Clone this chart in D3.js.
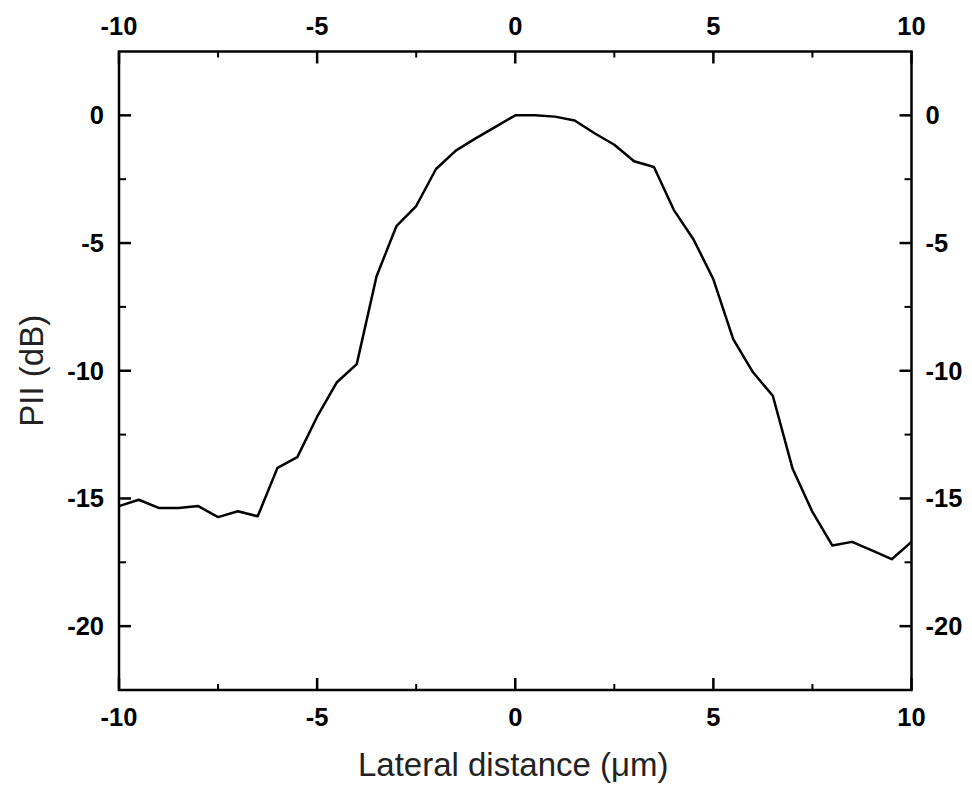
<!DOCTYPE html>
<html>
<head>
<meta charset="utf-8">
<script src="https://cdn.jsdelivr.net/npm/d3@7"></script>
<style>
  html, body { margin: 0; padding: 0; background: #fff; }
  svg { display: block; }
  .tick-label { font-family: "Liberation Sans", Arial, sans-serif; font-weight: bold; font-size: 25.5px; fill: #000; }
  .axis-title { font-family: "Liberation Sans", Arial, sans-serif; font-size: 33px; fill: #222; }
</style>
</head>
<body>
<svg id="chart" width="972" height="798"></svg>
<script>
// lateral position (um) and PII (dB)
const lateral_um = [-10, -9.5, -9, -8.5, -8, -7.5, -7, -6.5, -6, -5.5, -5, -4.5, -4, -3.5, -3, -2.5, -2, -1.5, -1, -0.5,
  0, 0.5, 1, 1.5, 2, 2.5, 3, 3.5, 4, 4.5, 5, 5.5, 6, 6.5, 7, 7.5, 8, 8.5, 9, 9.5, 10]
const pii_db = [-15.3, -15.05, -15.37, -15.37, -15.3, -15.73, -15.5, -15.7, -13.8, -13.38, -11.8, -10.45, -9.74, -6.3, -4.34, -3.55, -2.1, -1.38, -0.9, -0.45,
  0, 0, -0.05, -0.2, -0.7, -1.15, -1.8, -2.02, -3.7, -4.86, -6.42, -8.76, -10.06, -10.98, -13.84, -15.53, -16.84, -16.7, -17.03, -17.38, -16.7]

const x_ticks = [-10, -5, 0, 5, 10]
const x_minor = [-7.5, -2.5, 2.5, 7.5]
const y_ticks = [0, -5, -10, -15, -20]
const y_minor = [-2.5, -7.5, -12.5, -17.5]

const margin = { left: 119, right: 60.5, top: 51.5, bottom: 108 }
const W = 972, H = 798
const svg = d3.select('#chart')

const x = d3.scaleLinear().domain([-10, 10]).range([margin.left, W - margin.right])
const y = d3.scaleLinear().domain([-22.5, 2.5]).range([H - margin.bottom, margin.top])

// tick marks, all pointing inward
function tick_marks(axis, vals, len, sw) {
  let g = svg.append('g')
  vals.forEach(v => {
    if (axis == 'x') {
      g.append('line').attr('x1', x(v)).attr('x2', x(v)).attr('y1', y.range()[0]).attr('y2', y.range()[0] - len)
      g.append('line').attr('x1', x(v)).attr('x2', x(v)).attr('y1', y.range()[1]).attr('y2', y.range()[1] + len)
    } else {
      g.append('line').attr('y1', y(v)).attr('y2', y(v)).attr('x1', x.range()[0]).attr('x2', x.range()[0] + len)
      g.append('line').attr('y1', y(v)).attr('y2', y(v)).attr('x1', x.range()[1]).attr('x2', x.range()[1] - len)
    }
  })
  g.selectAll('line').style('stroke', '#000').style('stroke-width', sw)
}
tick_marks('x', x_ticks, 12, 2.5)
tick_marks('x', x_minor, 6, 2)
tick_marks('y', y_ticks, 12, 2.5)
tick_marks('y', y_minor, 7, 2)

// frame
svg.append('rect')
  .attr('x', x.range()[0]).attr('y', y.range()[1])
  .attr('width', x.range()[1] - x.range()[0])
  .attr('height', y.range()[0] - y.range()[1])
  .style('fill', 'none').style('stroke', '#000').style('stroke-width', 2.5)

// tick labels
x_ticks.forEach(v => {
  svg.append('text').attr('class', 'tick-label').attr('x', x(v)).attr('y', 35)
    .attr('text-anchor', 'middle').text(v)
  svg.append('text').attr('class', 'tick-label').attr('x', x(v)).attr('y', 726)
    .attr('text-anchor', 'middle').text(v)
})
y_ticks.forEach(v => {
  svg.append('text').attr('class', 'tick-label').attr('x', x.range()[0] - 15).attr('y', y(v) + 9)
    .attr('text-anchor', 'end').text(v)
  svg.append('text').attr('class', 'tick-label').attr('x', x.range()[1] + 14).attr('y', y(v) + 9)
    .attr('text-anchor', 'start').text(v)
})

// data line
const line = d3.line().x((d, i) => x(lateral_um[i])).y(d => y(d))
svg.append('path')
  .datum(pii_db)
  .attr('d', line)
  .style('fill', 'none')
  .style('stroke', '#000')
  .style('stroke-width', 2.5)
  .style('stroke-linejoin', 'round')

// axis titles
svg.append('text').attr('class', 'axis-title')
  .attr('x', (x.range()[0] + x.range()[1]) / 2 - 2).attr('y', 776)
  .attr('text-anchor', 'middle').text('Lateral distance (\u03bcm)')
svg.append('text').attr('class', 'axis-title')
  .attr('transform', `translate(43, ${(y.range()[0] + y.range()[1]) / 2}) rotate(-90)`)
  .attr('text-anchor', 'middle').text('PII (dB)')
</script>
</body>
</html>
